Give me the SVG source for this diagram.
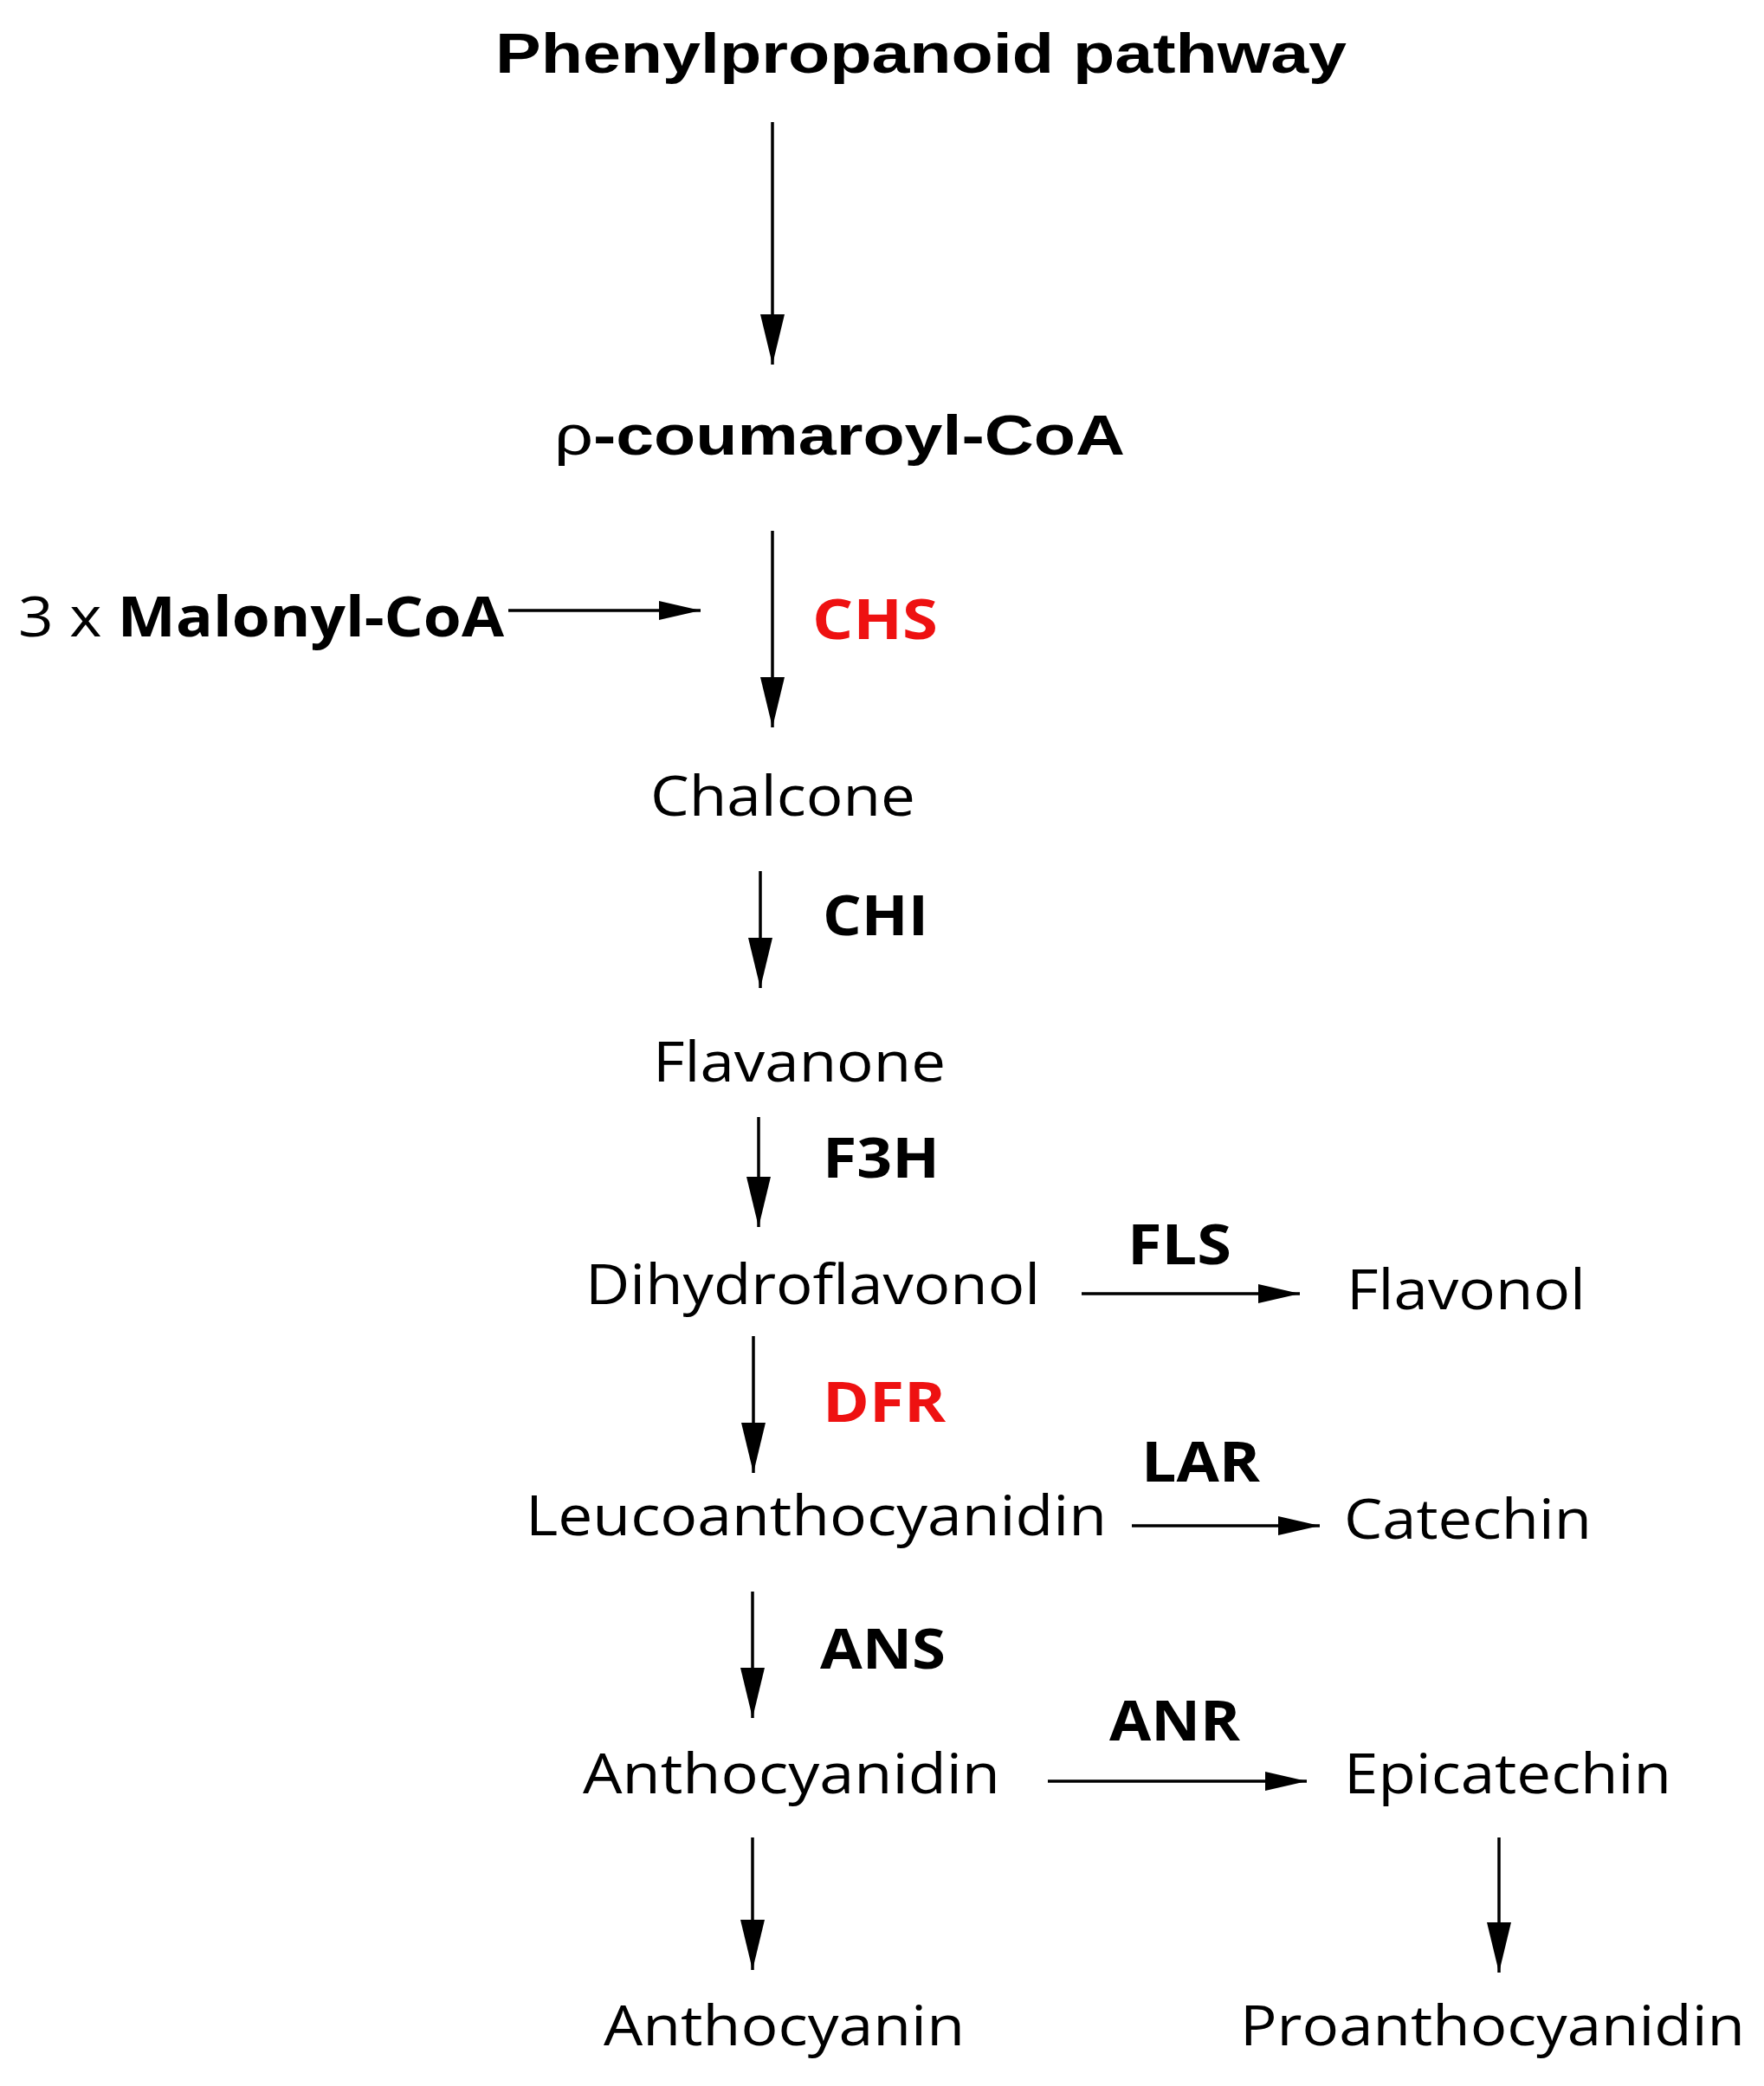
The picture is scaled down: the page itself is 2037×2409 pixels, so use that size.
<svg xmlns="http://www.w3.org/2000/svg" width="2037" height="2409" viewBox="0 0 2037 2409">
<defs>
<marker id="ah" markerUnits="userSpaceOnUse" markerWidth="60" markerHeight="30" refX="58" refY="14" orient="auto"><path d="M0,0 L58,14 L0,28 Z" fill="#000"/></marker>
<marker id="ahs" markerUnits="userSpaceOnUse" markerWidth="50" markerHeight="24" refX="48" refY="11" orient="auto"><path d="M0,0 L48,11 L0,22 Z" fill="#000"/></marker>
<style>
text{font-family:"Open Sans","Liberation Sans",sans-serif;font-size:64px;fill:#000}
.b{font-weight:bold}
.r{fill:#ee1111}
.c line{stroke:#000;stroke-width:3.5}
</style>
</defs>
<rect width="2037" height="2409" fill="#fff"/>
<g class="c" id="connectors">
<line x1="892" y1="141" x2="892" y2="421" marker-end="url(#ah)"/>
<line x1="892" y1="613" x2="892" y2="840" marker-end="url(#ah)"/>
<line x1="587" y1="705" x2="809" y2="705" marker-end="url(#ahs)"/>
<line x1="878" y1="1006" x2="878" y2="1141" marker-end="url(#ah)"/>
<line x1="876" y1="1290" x2="876" y2="1417" marker-end="url(#ah)"/>
<line x1="1249" y1="1494" x2="1501" y2="1494" marker-end="url(#ahs)"/>
<line x1="870" y1="1543" x2="870" y2="1701" marker-end="url(#ah)"/>
<line x1="1307" y1="1762" x2="1524" y2="1762" marker-end="url(#ahs)"/>
<line x1="869" y1="1838" x2="869" y2="1984" marker-end="url(#ah)"/>
<line x1="1210" y1="2057" x2="1509" y2="2057" marker-end="url(#ahs)"/>
<line x1="869" y1="2122" x2="869" y2="2275" marker-end="url(#ah)"/>
<line x1="1731" y1="2122" x2="1731" y2="2278" marker-end="url(#ah)"/>
</g>
<g id="title"><text class="b" x="572" y="84" textLength="983" lengthAdjust="spacingAndGlyphs" style="font-family:'Liberation Sans',sans-serif">Phenylpropanoid pathway</text></g>
<g id="coumaroyl"><text class="b" x="640" y="525" textLength="659" lengthAdjust="spacingAndGlyphs" style="font-family:'Liberation Sans',sans-serif"><tspan font-weight="normal">ρ</tspan>-coumaroyl-CoA</text></g>
<g id="malonyl"><text x="21" y="735" textLength="561" lengthAdjust="spacingAndGlyphs">3 x <tspan class="b">Malonyl-CoA</tspan></text></g>
<g id="chs"><text class="b r" x="938" y="738" textLength="145" lengthAdjust="spacingAndGlyphs">CHS</text></g>
<g id="chalcone"><text x="751" y="942" textLength="306" lengthAdjust="spacingAndGlyphs">Chalcone</text></g>
<g id="chi"><text class="b" x="950" y="1080" textLength="122" lengthAdjust="spacingAndGlyphs">CHI</text></g>
<g id="flavanone"><text x="754" y="1249" textLength="338" lengthAdjust="spacingAndGlyphs">Flavanone</text></g>
<g id="f3h"><text class="b" x="950" y="1360" textLength="135" lengthAdjust="spacingAndGlyphs">F3H</text></g>
<g id="dihydroflavonol"><text x="676" y="1506" textLength="525" lengthAdjust="spacingAndGlyphs">Dihydroflavonol</text></g>
<g id="fls"><text class="b" x="1302" y="1460" textLength="120" lengthAdjust="spacingAndGlyphs">FLS</text></g>
<g id="flavonol"><text x="1555" y="1512" textLength="276" lengthAdjust="spacingAndGlyphs">Flavonol</text></g>
<g id="dfr"><text class="b r" x="950" y="1642" textLength="142" lengthAdjust="spacingAndGlyphs">DFR</text></g>
<g id="leuco"><text x="607" y="1773" textLength="671" lengthAdjust="spacingAndGlyphs">Leucoanthocyanidin</text></g>
<g id="lar"><text class="b" x="1318" y="1711" textLength="137" lengthAdjust="spacingAndGlyphs">LAR</text></g>
<g id="catechin"><text x="1552" y="1777" textLength="286" lengthAdjust="spacingAndGlyphs">Catechin</text></g>
<g id="ans"><text class="b" x="947" y="1927" textLength="145" lengthAdjust="spacingAndGlyphs">ANS</text></g>
<g id="anthocyanidin"><text x="673" y="2071" textLength="482" lengthAdjust="spacingAndGlyphs">Anthocyanidin</text></g>
<g id="anr"><text class="b" x="1281" y="2010" textLength="151" lengthAdjust="spacingAndGlyphs">ANR</text></g>
<g id="epicatechin"><text x="1552" y="2071" textLength="378" lengthAdjust="spacingAndGlyphs">Epicatechin</text></g>
<g id="anthocyanin"><text x="697" y="2362" textLength="417" lengthAdjust="spacingAndGlyphs">Anthocyanin</text></g>
<g id="proantho"><text x="1432" y="2362" textLength="583" lengthAdjust="spacingAndGlyphs">Proanthocyanidin</text></g>
</svg>
